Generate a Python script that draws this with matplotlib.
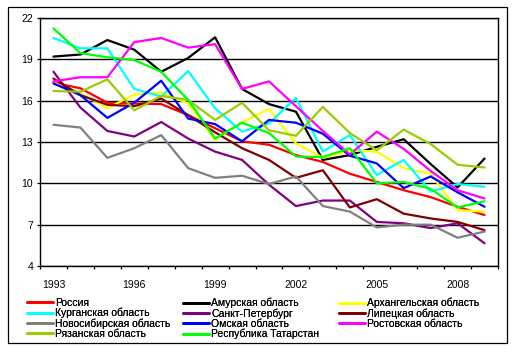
import numpy as np
import matplotlib
matplotlib.use("Agg")
import matplotlib.pyplot as plt
from matplotlib.patches import Rectangle

plt.rcParams['font.family'] = ['Liberation Sans', 'DejaVu Sans']

years = list(range(1993, 2010))
label_years = [1993, 1996, 1999, 2002, 2005, 2008]
y_ticks = [4, 7, 10, 13, 16, 19, 22]

# series values
russia = [17.3, 16.9, 15.85, 15.8, 15.75, 14.95, 14.0, 13.05, 12.8, 12.05, 11.55, 10.7, 10.1, 9.5, 9.0, 8.3, 7.7]
amur = [19.2, 19.35, 20.4, 19.7, 18.1, 19.1, 20.6, 16.85, 15.75, 15.2, 11.7, 12.05, 12.65, 13.2, 11.4, 9.7, 11.8]
arkh = [17.3, 16.55, 15.45, 16.45, 16.6, 15.8, 13.15, 14.45, 15.4, 12.9, 11.85, 12.4, 12.3, 11.1, 10.7, 8.05, 7.95]
kurgan = [20.55, 19.8, 19.8, 16.85, 16.3, 18.15, 15.45, 13.75, 14.35, 16.2, 12.3, 13.5, 10.6, 11.7, 9.4, 9.95, 9.75]
spb = [18.1, 15.5, 13.8, 13.4, 14.45, 13.25, 12.3, 11.7, 9.9, 8.35, 8.75, 8.75, 7.2, 7.1, 6.75, 7.1, 5.65]
lipetsk = [17.6, 16.4, 15.7, 15.6, 16.15, 14.95, 13.7, 12.55, 11.7, 10.4, 10.95, 8.25, 8.85, 7.8, 7.45, 7.2, 6.6]
novosib = [14.25, 14.05, 11.85, 12.55, 13.5, 11.1, 10.4, 10.55, 9.95, 10.5, 8.35, 7.95, 6.8, 7.0, 7.0, 6.05, 6.5]
omsk = [17.25, 16.4, 14.75, 15.85, 17.45, 14.7, 14.3, 13.05, 14.6, 14.4, 13.6, 12.0, 11.45, 9.65, 10.5, 9.35, 8.3]
rostov = [17.4, 17.7, 17.7, 20.25, 20.55, 19.85, 20.1, 16.85, 17.4, 15.6, 13.8, 12.1, 13.75, 12.5, 10.9, 9.5, 8.9]
ryazan = [16.7, 16.65, 17.55, 15.3, 16.35, 16.05, 14.6, 15.85, 13.85, 13.45, 15.55, 13.65, 12.4, 13.9, 12.85, 11.35, 11.15]
tatarstan = [21.25, 19.45, 19.15, 18.95, 18.1, 16.05, 13.25, 14.4, 13.65, 11.95, 11.9, 12.55, 10.0, 10.1, 9.6, 8.25, 8.7]

names = ["Россия", "Амурская область", "Архангельская область",
         "Курганская область", "Санкт-Петербург", "Липецкая область",
         "Новосибирская область", "Омская область", "Ростовская область",
         "Рязанская область", "Республика Татарстан"]
series = [russia, amur, arkh, kurgan, spb, lipetsk, novosib, omsk, rostov, ryazan, tatarstan]
colors = ["#FF0000", "#000000", "#FFFF00", "#00FFFF", "#800080", "#800000",
          "#808080", "#0000FF", "#FF00FF", "#99CC00", "#00FF00"]

W, H = 514, 352
fig = plt.figure(figsize=(W / 100, H / 100), dpi=100)
fig.patch.set_facecolor("white")

# outer chart border
fig.add_artist(Rectangle((8 / W, 1 - 343 / H), 499 / W, 336 / H, transform=fig.transFigure,
                         fill=False, edgecolor="black", linewidth=0.9))

ax = fig.add_axes([40 / W, 1 - 266 / H, 458 / W, 248 / H])
x = np.arange(len(years))

lines = []
for vals, name, col in zip(series, names, colors):
    ln, = ax.plot(x, vals, color=col, linewidth=1.6, label=name,
                  solid_joinstyle="round", solid_capstyle="round")
    lines.append(ln)

ax.set_xlim(-0.5, len(years) - 0.5)
ax.set_ylim(4, 22)
ax.set_yticks(y_ticks)
ax.set_yticklabels([str(v) for v in y_ticks], fontsize=7.5)
ax.yaxis.grid(True, color="black", linewidth=1.0)
ax.set_axisbelow(True)

# category boundaries as tick marks, year labels in between
ax.set_xticks(np.arange(-0.5, len(years), 1))
ax.set_xticklabels([])
ax.set_xticks([years.index(y) for y in label_years], minor=True)
ax.set_xticklabels([str(y) for y in label_years], minor=True, fontsize=7.5)
ax.tick_params(axis="x", which="major", direction="out", length=2.5, width=0.9)
ax.tick_params(axis="x", which="minor", length=0, pad=10)
ax.tick_params(axis="y", direction="out", length=2.5, width=0.9, pad=2.5)
for s in ax.spines.values():
    s.set_linewidth(1.0)
    s.set_color("black")

# legend: three columns placed separately
cols_idx = [[0, 3, 6, 9], [1, 4, 7, 10], [2, 5, 8]]
col_x = [27, 183, 339]
for idx, cx in zip(cols_idx, col_x):
    leg = fig.legend([lines[i] for i in idx], [names[i] for i in idx],
                     loc="upper left", bbox_to_anchor=(cx / W, 1 - 298 / H),
                     bbox_transform=fig.transFigure, frameon=False,
                     fontsize=7.5, handlelength=2.5, handletextpad=0.2,
                     labelspacing=0.0, borderpad=0, borderaxespad=0)
    for h in leg.legend_handles:
        h.set_linewidth(2.0)
    fig.add_artist(leg)

fig.savefig("out.png", dpi=100)
